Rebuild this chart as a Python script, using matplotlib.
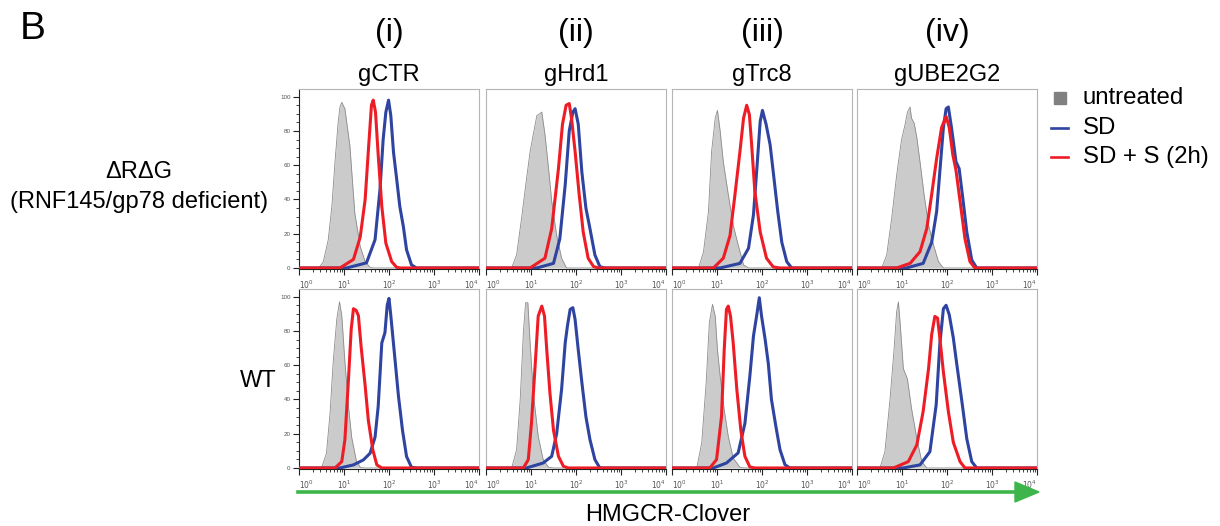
import numpy as np
import matplotlib
matplotlib.use("Agg")
import matplotlib.pyplot as plt
from matplotlib.ticker import FixedLocator, NullFormatter

plt.rcParams['font.family'] = ['Liberation Sans', 'DejaVu Sans']

# column / row labels
col_numbers = ['(i)', '(ii)', '(iii)', '(iv)']
col_guides = ['gCTR', 'gHrd1', 'gTrc8', 'gUBE2G2']
legend_labels = ['untreated', 'SD', 'SD + S (2h)']

# histograms: (log10 intensity, % of max)
# row 1: dRdG cells
ko_ctr_untr = [(0, 0), (0.40, 0), (0.47, 1), (0.54, 3.7), (0.65, 16.5), (0.73, 36), (0.80, 62), (0.87, 85), (0.91, 94),
               (0.95, 96.7), (1.02, 93), (1.13, 71.5), (1.24, 32), (1.36, 12.6), (1.47, 3.7), (1.58, 0.4), (1.65, 0), (4, 0)]
ko_ctr_sd = [(0, 0), (1.06, 0), (1.50, 3), (1.69, 16.5), (1.80, 46), (1.87, 75), (1.93, 91), (1.99, 98), (2.04, 89),
             (2.10, 67.6), (2.17, 52), (2.24, 36), (2.32, 24), (2.39, 10.6), (2.50, 1.8), (2.61, 0), (4, 0)]
ko_ctr_sds = [(0, 0), (0.91, 0), (1.21, 5), (1.36, 18), (1.47, 40), (1.54, 68), (1.61, 95), (1.65, 98), (1.70, 91),
              (1.76, 66), (1.84, 36), (1.93, 14.5), (2.06, 3.7), (2.17, 0.4), (2.25, 0), (4, 0)]

ko_hrd_untr = [(0, 0), (0.57, 0), (0.68, 7.6), (0.79, 29), (0.90, 52), (0.98, 68), (1.05, 78), (1.13, 89), (1.19, 90),
               (1.24, 91), (1.31, 78), (1.39, 58), (1.46, 39), (1.57, 19), (1.68, 5.7), (1.79, 0), (4, 0)]
ko_hrd_sd = [(0, 0), (1.13, 0), (1.50, 2.7), (1.64, 17), (1.76, 48.5), (1.85, 80), (1.93, 91), (1.98, 93), (2.05, 84),
             (2.13, 56), (2.22, 35), (2.31, 23), (2.42, 7.6), (2.53, 0.8), (2.64, 0), (4, 0)]
ko_hrd_sds = [(0, 0), (0.98, 0), (1.31, 5.7), (1.46, 23), (1.61, 58), (1.70, 84), (1.78, 95), (1.85, 96), (1.90, 87.5),
              (1.98, 68), (2.07, 43), (2.16, 21), (2.27, 5.7), (2.39, 0.8), (2.50, 0), (4, 0)]

ko_trc_untr = [(0, 0), (0.59, 0), (0.70, 9.5), (0.81, 33), (0.88, 68), (0.96, 87.5), (1.01, 92), (1.07, 80), (1.14, 62),
               (1.25, 43), (1.36, 25), (1.47, 13.5), (1.59, 1.8), (1.70, 0), (4, 0)]
ko_trc_sd = [(0, 0), (1.07, 0), (1.51, 2.7), (1.70, 11.5), (1.81, 31), (1.88, 56), (1.96, 85.6), (2.01, 92), (2.09, 84),
             (2.18, 72), (2.25, 56), (2.35, 33), (2.44, 15), (2.55, 3.7), (2.66, 0), (4, 0)]
ko_trc_sds = [(0, 0), (0.92, 0), (1.14, 5.7), (1.29, 19), (1.40, 43), (1.51, 68), (1.59, 87.5), (1.66, 95), (1.72, 89.5),
              (1.77, 72), (1.84, 45), (1.96, 21), (2.10, 5.7), (2.25, 0.6), (2.40, 0), (4, 0)]

ko_ube_untr = [(0, 0), (0.55, 0), (0.66, 7.6), (0.77, 29), (0.88, 54), (0.99, 75), (1.07, 84), (1.12, 91), (1.18, 94),
               (1.21, 87.5), (1.27, 84.6), (1.33, 76), (1.40, 62), (1.49, 43), (1.59, 25), (1.70, 13.5), (1.81, 3.7),
               (1.92, 0), (4, 0)]
ko_ube_sd = [(0, 0), (1.10, 0), (1.47, 2.7), (1.66, 15), (1.77, 33), (1.84, 56), (1.92, 82), (1.98, 93), (2.03, 94),
             (2.10, 82), (2.20, 62), (2.27, 58), (2.35, 41), (2.44, 21), (2.55, 4.7), (2.66, 0), (4, 0)]
ko_ube_sds = [(0, 0), (0.88, 0), (1.18, 2.7), (1.40, 9.5), (1.55, 23), (1.66, 43), (1.77, 64), (1.88, 82), (1.98, 88.5),
              (2.05, 82), (2.13, 66), (2.20, 57), (2.29, 39), (2.40, 17), (2.51, 3.7), (2.62, 0), (4, 0)]

# row 2: WT cells
wt_ctr_untr = [(0, 0), (0.50, 0), (0.61, 8.6), (0.69, 32), (0.76, 62), (0.84, 87), (0.90, 97), (0.95, 89), (1.02, 62),
               (1.10, 36), (1.17, 18), (1.27, 4.7), (1.36, 0.4), (1.45, 0), (4, 0)]
wt_ctr_sd = [(0, 0), (0.91, 0), (1.21, 1.8), (1.43, 4.7), (1.58, 8.6), (1.69, 18), (1.76, 36), (1.84, 73), (1.91, 79),
             (1.96, 95), (2.00, 99), (2.04, 89), (2.12, 67), (2.21, 42), (2.30, 22), (2.39, 6.7), (2.50, 0.4),
             (2.61, 0), (4, 0)]
wt_ctr_sds = [(0, 0), (0.80, 0), (0.95, 3.7), (1.02, 16.5), (1.10, 52), (1.16, 81), (1.21, 93), (1.27, 92), (1.32, 89),
              (1.38, 71), (1.47, 48), (1.54, 28), (1.64, 10.6), (1.73, 1.8), (1.84, 0), (4, 0)]

wt_hrd_untr = [(0, 0), (0.57, 0), (0.68, 10.7), (0.76, 40), (0.83, 79), (0.88, 96.5), (0.93, 96.5), (0.98, 73),
               (1.05, 44), (1.16, 18.5), (1.27, 4.9), (1.39, 0.4), (1.50, 0), (4, 0)]
wt_hrd_sd = [(0, 0), (0.90, 0), (1.27, 2.9), (1.46, 6.8), (1.57, 20), (1.68, 46), (1.76, 73), (1.81, 83), (1.87, 92.6),
             (1.93, 93.6), (1.98, 86.7), (2.05, 69), (2.13, 50), (2.22, 30), (2.31, 16.6), (2.42, 4.9), (2.53, 0), (4, 0)]
wt_hrd_sds = [(0, 0), (0.83, 0), (0.94, 4.9), (1.01, 26), (1.09, 59), (1.16, 88.7), (1.24, 94.5), (1.30, 88.7),
              (1.35, 69), (1.42, 44), (1.50, 22), (1.61, 6.8), (1.72, 1), (1.83, 0), (4, 0)]

wt_trc_untr = [(0, 0), (0.55, 0), (0.66, 14.6), (0.76, 50), (0.83, 85), (0.90, 95.5), (0.96, 88.7), (1.01, 69),
               (1.07, 53.6), (1.16, 34), (1.25, 18.5), (1.36, 5.8), (1.51, 0.4), (1.62, 0), (4, 0)]
wt_trc_sd = [(0, 0), (0.92, 0), (1.21, 2.9), (1.47, 8.8), (1.62, 26), (1.73, 53.6), (1.81, 77), (1.88, 88.7),
             (1.94, 99.4), (1.99, 88.7), (2.07, 75), (2.14, 61), (2.21, 40), (2.31, 24), (2.40, 10.7), (2.51, 1.9),
             (2.62, 0), (4, 0)]
wt_trc_sds = [(0, 0), (0.84, 0), (0.99, 4.9), (1.10, 30), (1.16, 69), (1.21, 92.6), (1.25, 94.5), (1.30, 88.7),
              (1.36, 73), (1.44, 46), (1.53, 22), (1.62, 6.8), (1.73, 0.6), (1.84, 0), (4, 0)]

wt_ube_untr = [(0, 0), (0.51, 0), (0.62, 9.5), (0.73, 39), (0.82, 68), (0.88, 91), (0.92, 97), (0.96, 84), (1.03, 58),
               (1.12, 52), (1.21, 35), (1.33, 17), (1.44, 3.7), (1.55, 0), (4, 0)]
wt_ube_sd = [(0, 0), (1.03, 0), (1.40, 1.8), (1.62, 9.5), (1.76, 37), (1.84, 72), (1.92, 93), (1.98, 95), (2.05, 89.5),
             (2.14, 76), (2.21, 62), (2.33, 39), (2.44, 17), (2.55, 3.7), (2.66, 0), (4, 0)]
wt_ube_sds = [(0, 0), (0.81, 0), (1.14, 3.7), (1.33, 13.5), (1.47, 33), (1.59, 58), (1.66, 78), (1.73, 88.5),
              (1.79, 87.5), (1.84, 76), (1.92, 56), (2.03, 33), (2.14, 15), (2.29, 3.7), (2.40, 0), (4, 0)]

panels = [
    [(ko_ctr_untr, ko_ctr_sd, ko_ctr_sds), (ko_hrd_untr, ko_hrd_sd, ko_hrd_sds),
     (ko_trc_untr, ko_trc_sd, ko_trc_sds), (ko_ube_untr, ko_ube_sd, ko_ube_sds)],
    [(wt_ctr_untr, wt_ctr_sd, wt_ctr_sds), (wt_hrd_untr, wt_hrd_sd, wt_hrd_sds),
     (wt_trc_untr, wt_trc_sd, wt_trc_sds), (wt_ube_untr, wt_ube_sd, wt_ube_sds)],
]

GRAY_FILL = '#cbcbcb'
GRAY_EDGE = '#8c8c8c'
BLUE = '#2e44a0'
RED = '#ee1d25'
GREEN = '#3db54a'

W, H = 1220, 526
fig = plt.figure(figsize=(W / 100, H / 100), dpi=100)

col_left = [299, 486, 672, 857]
row_top = [89, 289]
pw, ph = 180, 180


def to_xy(curve):
    lx = np.array([p[0] for p in curve])
    y = np.array([p[1] for p in curve])
    return 10 ** lx, y


minor = [m * 10 ** d for d in range(4) for m in range(2, 10)]

for r in range(2):
    for c in range(4):
        ax = fig.add_axes([col_left[c] / W, 1 - (row_top[r] + ph) / H, pw / W, ph / H])
        untr, sd, sds = panels[r][c]
        x, y = to_xy(untr)
        ax.fill_between(x, y, color=GRAY_FILL, lw=0, zorder=1)
        ax.plot(x, y, color=GRAY_EDGE, lw=0.6, zorder=2)
        x, y = to_xy(sd)
        ax.plot(x, y, color=BLUE, lw=2.2, zorder=3, solid_joinstyle='round')
        x, y = to_xy(sds)
        ax.plot(x, y, color=RED, lw=2.2, zorder=4, solid_joinstyle='round')

        ax.set_xscale('log')
        ax.set_xlim(1, 1e4)
        ax.set_ylim(-0.6, 104.5)
        ax.xaxis.set_major_locator(FixedLocator([1, 10, 100, 1000, 10000]))
        ax.xaxis.set_minor_locator(FixedLocator(minor))
        ax.xaxis.set_minor_formatter(NullFormatter())
        ax.set_xticklabels(['$10^{%d}$' % d for d in range(5)])
        ax.tick_params(axis='x', which='major', length=4, width=0.8, labelsize=5.5, pad=3,
                       colors='#222222', labelcolor='#555555')
        ax.tick_params(axis='x', which='minor', length=2, width=0.6, colors='#222222')
        xlabs = ax.get_xticklabels()
        xlabs[0].set_horizontalalignment('left')
        xlabs[-1].set_horizontalalignment('right')

        for s in ['top', 'right']:
            ax.spines[s].set_color('#b5b5b5')
            ax.spines[s].set_linewidth(0.8)
        ax.spines['bottom'].set_color('#222222')
        ax.spines['bottom'].set_linewidth(0.8)

        if c == 0:
            ax.set_yticks([0, 20, 40, 60, 80, 100])
            ax.yaxis.set_minor_locator(FixedLocator(list(range(0, 101, 5))))
            ax.tick_params(axis='y', which='major', length=4, width=0.8, labelsize=4.5, pad=2,
                           colors='#222222', labelcolor='#555555')
            ax.tick_params(axis='y', which='minor', length=2, width=0.6, colors='#222222')
            ax.spines['left'].set_color('#222222')
            ax.spines['left'].set_linewidth(0.8)
        else:
            ax.set_yticks([])
            ax.spines['left'].set_color('#b5b5b5')
            ax.spines['left'].set_linewidth(0.8)

        if r == 0:
            cx = (col_left[c] + pw / 2) / W
            fig.text(cx, 1 - 33 / H, col_numbers[c], ha='center', va='center', fontsize=23)
            fig.text(cx, 1 - 75 / H, col_guides[c], ha='center', va='center', fontsize=17)

# row labels
fig.text(139 / W, 1 - 172 / H, '\u0394R\u0394G', ha='center', va='center', fontsize=17)
fig.text(139 / W, 1 - 202 / H, '(RNF145/gp78 deficient)', ha='center', va='center', fontsize=17)
fig.text(277 / W, 1 - 381 / H, 'WT', ha='right', va='center', fontsize=17)

fig.text(20 / W, 1 - 29 / H, 'B', ha='left', va='center', fontsize=28)

# legend
leg_y = [98, 128, 157]
fig.patches.append(plt.Rectangle((1054 / W, 1 - 104 / H), 12 / W, 12 / H, color='#808080',
                                 transform=fig.transFigure, figure=fig))
fig.add_artist(plt.Line2D([1051 / W, 1068 / W], [1 - leg_y[1] / H] * 2, color=BLUE, lw=1.9))
fig.add_artist(plt.Line2D([1051 / W, 1068 / W], [1 - leg_y[2] / H] * 2, color=RED, lw=1.9))
for lab, yy in zip(legend_labels, leg_y):
    fig.text(1083 / W, 1 - yy / H, lab, ha='left', va='center', fontsize=17.3)

# intensity arrow
fig.add_artist(plt.Line2D([298 / W, 1020 / W], [1 - 492 / H] * 2, color=GREEN, lw=2.6))
fig.patches.append(plt.Polygon([(1015 / W, 1 - 482 / H), (1039 / W, 1 - 492 / H), (1015 / W, 1 - 502 / H)],
                               closed=True, color=GREEN, transform=fig.transFigure, figure=fig))
fig.text(668 / W, 1 - 515 / H, 'HMGCR-Clover', ha='center', va='center', fontsize=17)

fig.savefig('out.png', dpi=100)
